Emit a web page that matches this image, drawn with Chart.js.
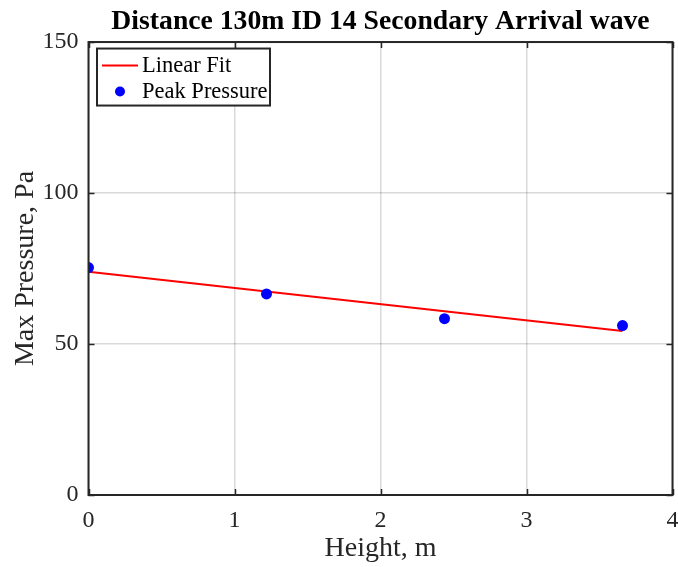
<!DOCTYPE html>
<html>
<head>
<meta charset="utf-8">
<script src="https://cdn.jsdelivr.net/npm/chart.js@4/dist/chart.umd.min.js"></script>
<style>
  html, body { margin: 0; padding: 0; background: #fff; }
  #wrap { width: 678px; height: 567px; }
</style>
</head>
<body>
<div id="wrap"><canvas id="c" width="678" height="567"></canvas></div>
<script>
// Sensor heights (m) and measured peak pressures (Pa)
const heights = [0, 1.2192, 2.4384, 3.6576];
const peakPressure = [75.3, 66.6, 58.4, 56.1];
// Least-squares line evaluated at the first and last sensor heights
const fitHeights = [0, 3.6576];
const fitPressure = [73.9, 54.3];
const xTicks = [0, 1, 2, 3, 4];
const yTicks = [0, 50, 100, 150];

const SERIF = '"Liberation Serif", "Times New Roman", serif';
const FG = '#262626';

// Box around the axes with inward ticks on all four sides
const axesBox = {
  id: 'axesBox',
  afterDatasetsDraw(chart) {
    const { ctx, chartArea: a, scales: { x, y } } = chart;
    ctx.save();
    ctx.strokeStyle = FG;
    ctx.lineWidth = 2;
    ctx.strokeRect(a.left, a.top, a.right - a.left, a.bottom - a.top);
    ctx.lineWidth = 1.5;
    ctx.beginPath();
    const tl = 6;
    xTicks.forEach(v => {
      const px = Math.round(x.getPixelForValue(v)) + 0.5;
      ctx.moveTo(px, a.bottom); ctx.lineTo(px, a.bottom - tl);
      ctx.moveTo(px, a.top); ctx.lineTo(px, a.top + tl);
    });
    yTicks.forEach(v => {
      const py = Math.round(y.getPixelForValue(v)) + 0.5;
      ctx.moveTo(a.left, py); ctx.lineTo(a.left + tl, py);
      ctx.moveTo(a.right, py); ctx.lineTo(a.right - tl, py);
    });
    ctx.stroke();
    ctx.restore();
  }
};

// Legend box in the upper-left corner of the axes
const boxLegend = {
  id: 'boxLegend',
  afterDraw(chart) {
    const { ctx, chartArea: a } = chart;
    const ds = chart.data.datasets;
    const bx = a.left + 8.5, by = a.top + 6.5, bw = 173, bh = 57;
    ctx.save();
    ctx.fillStyle = '#fff';
    ctx.fillRect(bx, by, bw, bh);
    ctx.strokeStyle = FG;
    ctx.lineWidth = 2;
    ctx.strokeRect(bx, by, bw, bh);
    ctx.font = '22.5px ' + SERIF;
    ctx.textBaseline = 'middle';
    const rows = [by + 17, by + 43];
    ds.forEach((d, i) => {
      const cy = rows[i];
      if (d.showLine) {
        ctx.strokeStyle = d.borderColor;
        ctx.lineWidth = 2;
        ctx.beginPath();
        ctx.moveTo(bx + 5, cy); ctx.lineTo(bx + 41, cy);
        ctx.stroke();
      } else {
        ctx.fillStyle = d.backgroundColor;
        ctx.beginPath();
        ctx.arc(bx + 23, cy, 5, 0, Math.PI * 2);
        ctx.fill();
      }
      ctx.fillStyle = '#000';
      ctx.fillText(d.label, bx + 45, cy + 1);
    });
    ctx.restore();
  }
};

new Chart(document.getElementById('c'), {
  type: 'scatter',
  data: {
    datasets: [
      {
        label: 'Linear Fit',
        data: fitHeights.map((h, i) => ({ x: h, y: fitPressure[i] })),
        showLine: true,
        borderColor: '#ff0000',
        backgroundColor: '#ff0000',
        borderWidth: 2,
        pointRadius: 0,
        order: 2
      },
      {
        label: 'Peak Pressure',
        data: heights.map((h, i) => ({ x: h, y: peakPressure[i] })),
        showLine: false,
        backgroundColor: '#0000ff',
        borderColor: '#0000ff',
        pointRadius: 5.5,
        pointBorderWidth: 0,
        order: 1
      }
    ]
  },
  options: {
    responsive: false,
    animation: false,
    devicePixelRatio: 1,
    layout: { padding: { left: 0, right: 5, top: 0, bottom: 0 } },
    plugins: {
      legend: { display: false },
      tooltip: { enabled: false },
      title: {
        display: true,
        fullSize: false,
        text: 'Distance 130m ID 14 Secondary Arrival wave',
        color: '#000',
        font: { family: SERIF, size: 27.7, weight: 'bold', lineHeight: 1.2 },
        padding: { top: 5, bottom: 3.8 }
      }
    },
    scales: {
      x: {
        type: 'linear',
        min: 0, max: 4,
        afterBuildTicks: s => { s.ticks = xTicks.map(v => ({ value: v })); },
        afterFit: s => { s.height = 72; s.paddingLeft = 0; s.paddingRight = 0; },
        grid: { color: 'rgba(0,0,0,0.15)', lineWidth: 1.5, drawTicks: false },
        border: { display: false },
        ticks: { color: FG, font: { family: SERIF, size: 24 }, padding: 11, maxRotation: 0 },
        title: {
          display: true, text: 'Height, m', color: FG,
          font: { family: SERIF, size: 28, lineHeight: 1.2 },
          padding: { top: 0, bottom: 1.5 }
        }
      },
      y: {
        type: 'linear',
        min: 0, max: 150,
        afterBuildTicks: s => { s.ticks = yTicks.map(v => ({ value: v })); },
        afterFit: s => { s.width = 88.5; s.paddingTop = 0; s.paddingBottom = 0; },
        grid: { color: 'rgba(0,0,0,0.15)', lineWidth: 1.5, drawTicks: false },
        border: { display: false },
        ticks: { color: FG, font: { family: SERIF, size: 24 }, padding: 10 },
        title: {
          display: true, text: 'Max Pressure, Pa', color: FG,
          font: { family: SERIF, size: 28, lineHeight: 1.2 },
          padding: { top: 8.5, bottom: 0 }
        }
      }
    }
  },
  plugins: [axesBox, boxLegend]
});
</script>
</body>
</html>
